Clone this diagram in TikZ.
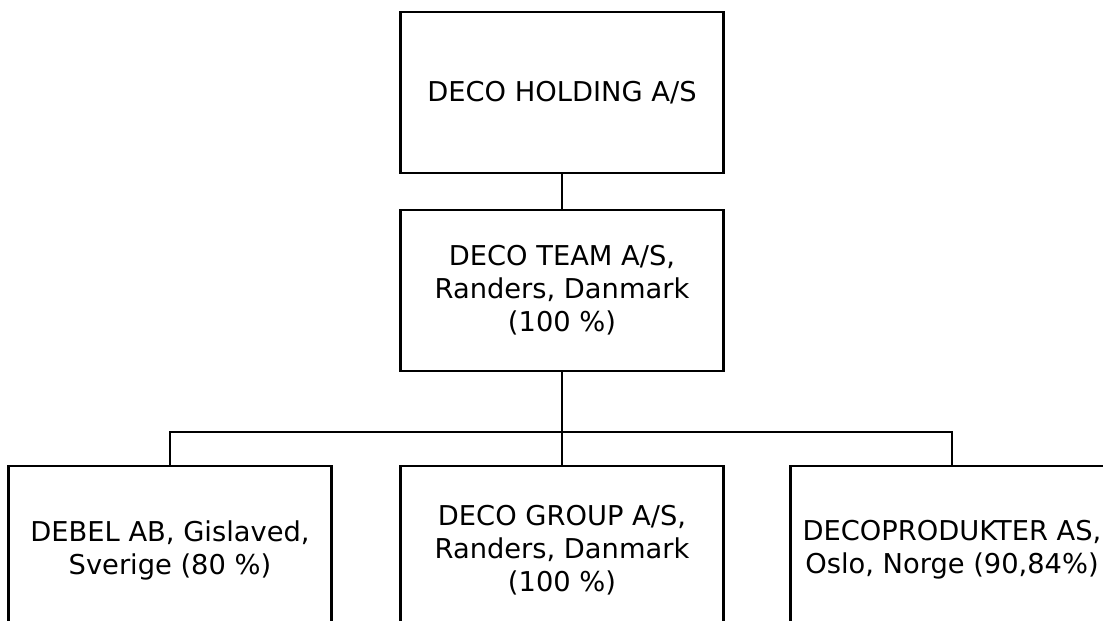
\documentclass[tikz,border=0pt]{standalone}
\usepackage{fontspec}
\setmainfont{DejaVu Sans}
\usetikzlibrary{positioning}

\begin{document}
\begin{tikzpicture}[x=1pt,y=-1pt,
  firm/.style={draw=black,line width=2.2pt,minimum width=323pt,minimum height=161pt,
    align=center,inner sep=0pt,font=\fontsize{27.3}{33}\selectfont},
  lowfirm/.style={firm,minimum height=168pt},
  link/.style={line width=2.2pt}]

\useasboundingbox (0,0) rectangle (1103,621);
\clip (0,0) rectangle (1103,621);

\node[firm] (holding) at (562,92.5) {DECO HOLDING A/S};
\node[firm] (team) at (562,290.5) {DECO TEAM A/S,\\Randers, Danmark\\(100 \%)};

\node[lowfirm] (debel) at (170,550) {DEBEL AB, Gislaved,\\Sverige (80 \%)};
\node[lowfirm] (group) at (562,550) {DECO GROUP A/S,\\Randers, Danmark\\(100 \%)};
\node[lowfirm] (produkter) at (952,550) {DECOPRODUKTER AS,\\Oslo, Norge (90,84\%)};

\coordinate (bus) at (562,432);

\draw[link] (holding) -- (team);
\draw[link,line width=2.8pt] (team) -- (group);
\draw[link] (debel.north) |- (bus) -| (produkter.north);
\end{tikzpicture}
\end{document}
